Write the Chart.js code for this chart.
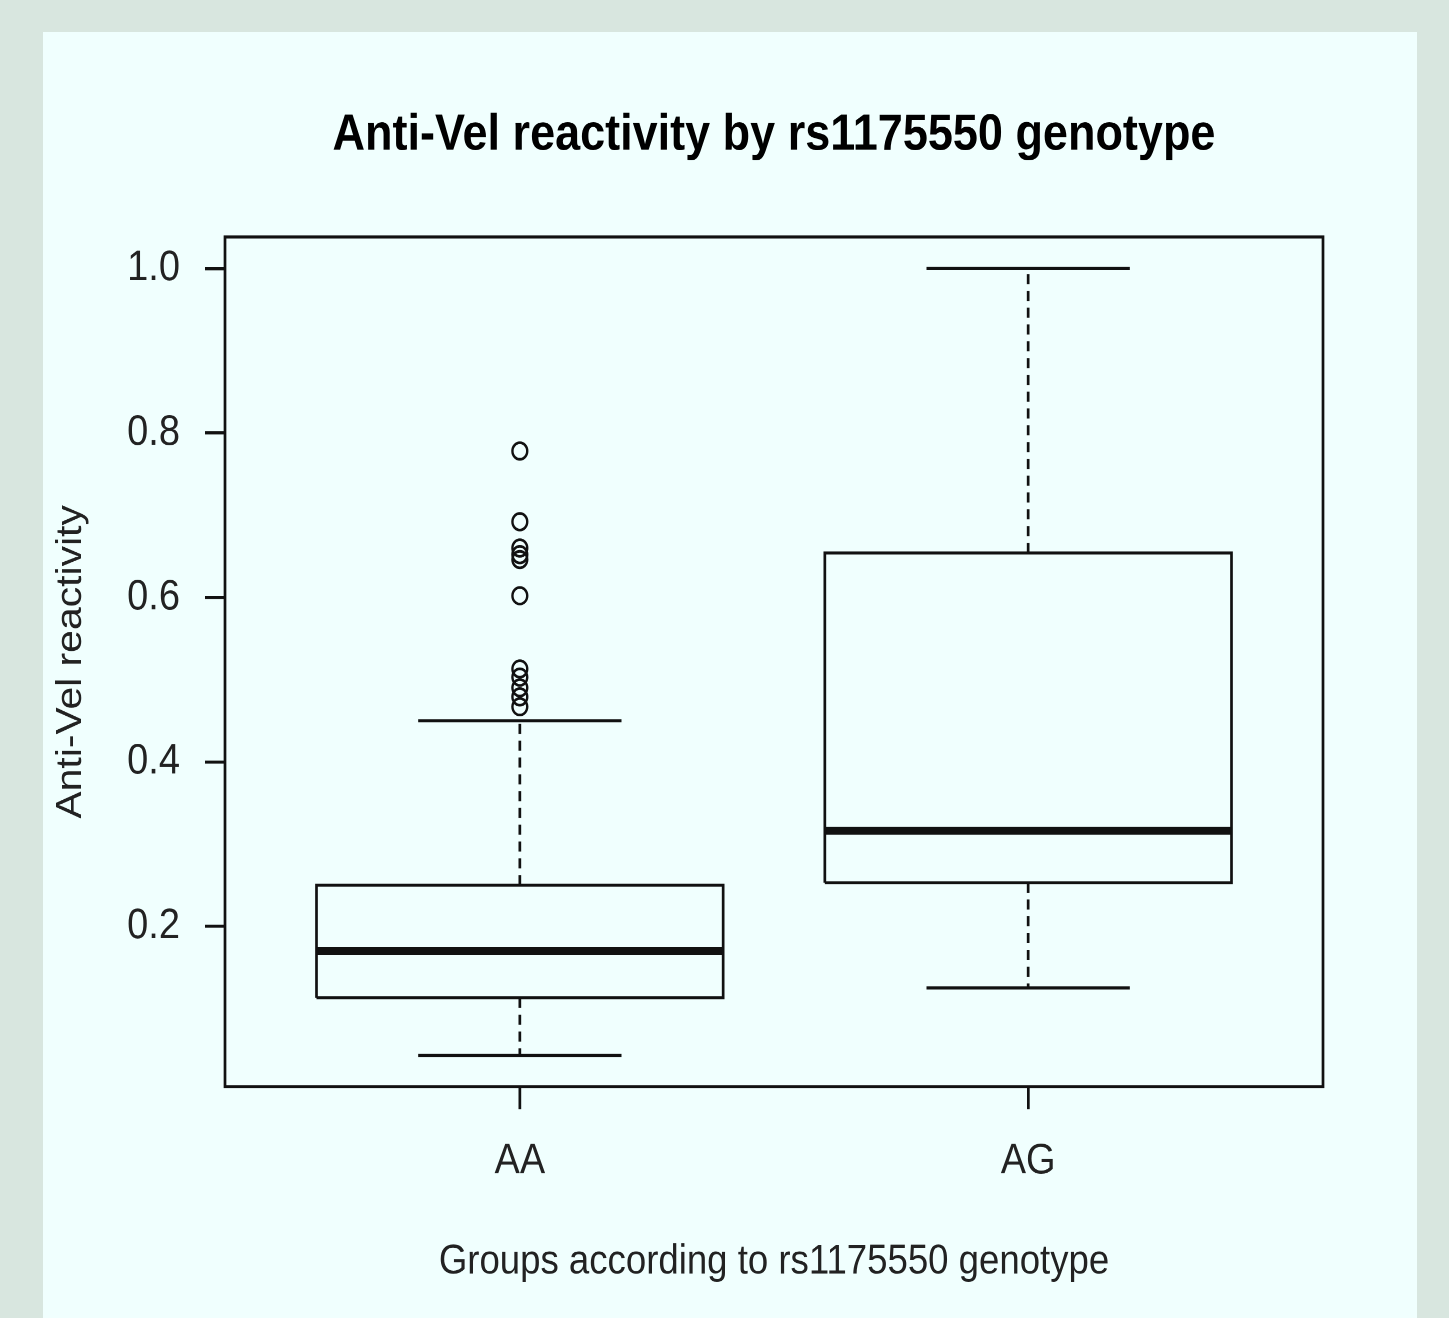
<!DOCTYPE HTML>
<html>
	<head>
		<title>Anti-Vel reactivity by rs1175550 genotype</title>
		<meta charset="utf-8" />
		<style>
			html, body { margin: 0; padding: 0; }
			body { background: #d8e6df; width: 1449px; height: 1318px; overflow: hidden; position: relative; }
			#panel { position: absolute; left: 43px; top: 32px; width: 1374px; height: 1286px; background: #f0fffe; overflow: hidden; }
			/* the source figure is slightly stretched vertically */
			#stretch { position: absolute; left: 0; top: 0; width: 1374px; height: 1148px; transform: scaleY(1.12); transform-origin: 0 0; }
		</style>
	</head>
	<body>
		<script src="https://cdn.jsdelivr.net/npm/chart.js@4.4.0/dist/chart.umd.min.js"></script>

		<div id="panel">
			<div id="stretch">
				<canvas id="myChart" width="1374" height="1148"></canvas>
			</div>
		</div>

		<script>
			// data
			const categories = ['AA', 'AG'];
			const whiskerLow = [0.043, 0.125];
			const quartile1 = [0.113, 0.253];
			const medians = [0.170, 0.316];
			const quartile3 = [0.250, 0.654];
			const whiskerHigh = [0.450, 1.0];
			const outliers = [
				[0.778, 0.692, 0.660, 0.652, 0.646, 0.602, 0.513, 0.503, 0.490, 0.479, 0.467],
				[]
			];
			const yTicks = [0.2, 0.4, 0.6, 0.8, 1.0];

			const ink = '#111';
			const fontFamily = "'Liberation Sans', Arial, Helvetica, sans-serif";
			const boxHalf = 0.4;
			const capHalf = 0.2;

			function seg(points, width, dash) {
				return {
					data: points,
					showLine: true,
					borderColor: ink,
					borderWidth: width,
					borderDash: dash || [],
					pointRadius: 0,
					fill: false
				};
			}

			const datasets = [];
			categories.forEach((cat, i) => {
				const c = i + 1;
				// box
				datasets.push(seg([
					{x: c - boxHalf, y: quartile1[i]}, {x: c + boxHalf, y: quartile1[i]},
					{x: c + boxHalf, y: quartile3[i]}, {x: c - boxHalf, y: quartile3[i]},
					{x: c - boxHalf, y: quartile1[i]}
				], 2.7));
				// whiskers
				datasets.push(seg([{x: c, y: quartile3[i]}, {x: c, y: whiskerHigh[i]}], 2.7, [9, 6]));
				datasets.push(seg([{x: c, y: quartile1[i]}, {x: c, y: whiskerLow[i]}], 2.7, [9, 6]));
				// caps
				datasets.push(seg([{x: c - capHalf, y: whiskerHigh[i]}, {x: c + capHalf, y: whiskerHigh[i]}], 2.7));
				datasets.push(seg([{x: c - capHalf, y: whiskerLow[i]}, {x: c + capHalf, y: whiskerLow[i]}], 2.7));
				// median
				datasets.push(seg([{x: c - boxHalf, y: medians[i]}, {x: c + boxHalf, y: medians[i]}], 7));
				// outliers
				datasets.push({
					data: outliers[i].map(v => ({x: c, y: v})),
					showLine: false,
					pointStyle: 'circle',
					pointRadius: 7.4,
					pointBorderWidth: 2.4,
					pointBorderColor: ink,
					pointBackgroundColor: 'rgba(0,0,0,0)'
				});
			});

			const frame = {
				id: 'frame',
				afterDatasetsDraw(chart) {
					const a = chart.chartArea;
					const ctx = chart.ctx;
					ctx.save();
					ctx.strokeStyle = ink;
					ctx.lineWidth = 2.7;
					ctx.strokeRect(a.left, a.top, a.right - a.left, a.bottom - a.top);
					ctx.restore();
				}
			};

			const ctx = document.getElementById('myChart').getContext('2d');
			const myChart = new Chart(ctx, {
				type: 'scatter',
				data: { datasets: datasets },
				plugins: [frame],
				options: {
					responsive: false,
					devicePixelRatio: 2,
					animation: false,
					layout: { padding: { top: 0, left: 0, right: 94, bottom: 0 } },
					plugins: {
						legend: { display: false },
						tooltip: { enabled: false },
						title: {
							display: true,
							fullSize: false,
							text: 'Anti-Vel reactivity by rs1175550 genotype',
							color: '#000',
							font: { family: fontFamily, size: 45, weight: 'bold', lineHeight: 1.2 },
							padding: { top: 65.7, bottom: 63.3 }
						}
					},
					scales: {
						x: {
							type: 'linear',
							min: 0.42,
							max: 2.58,
							afterBuildTicks: (scale) => { scale.ticks = categories.map((c, i) => ({ value: i + 1 })); },
							afterFit: (scale) => { scale.height = 206.3; },
							grid: { display: true, drawOnChartArea: false, drawTicks: true, tickLength: 20, color: ink, lineWidth: 2.7 },
							border: { display: false },
							ticks: {
								color: '#222',
								padding: 24,
								maxRotation: 0,
								font: { family: fontFamily, size: 38, lineHeight: 1.2 },
								callback: (v) => categories[Math.round(v) - 1]
							},
							title: {
								display: true,
								text: 'Groups according to rs1175550 genotype',
								color: '#222',
								font: { family: fontFamily, size: 36.6, lineHeight: 1.2 },
								padding: { top: 0, bottom: 27.4 }
							}
						},
						y: {
							type: 'linear',
							min: 0.0049,
							max: 1.0383,
							afterBuildTicks: (scale) => { scale.ticks = yTicks.map(v => ({ value: v })); },
							afterFit: (scale) => { scale.width = 182; },
							grid: { display: true, drawOnChartArea: false, drawTicks: true, tickLength: 20, color: ink, lineWidth: 2.7 },
							border: { display: false },
							ticks: {
								color: '#222',
								padding: 25,
								font: { family: fontFamily, size: 38, lineHeight: 1.2 },
								callback: (v) => v.toFixed(1)
							},
							title: {
								display: true,
								text: 'Anti-Vel reactivity',
								color: '#222',
								font: { family: fontFamily, size: 36.5, lineHeight: 1.2 },
								padding: { top: 6, bottom: 0 }
							}
						}
					}
				}
			});
		</script>
	</body>
</html>
